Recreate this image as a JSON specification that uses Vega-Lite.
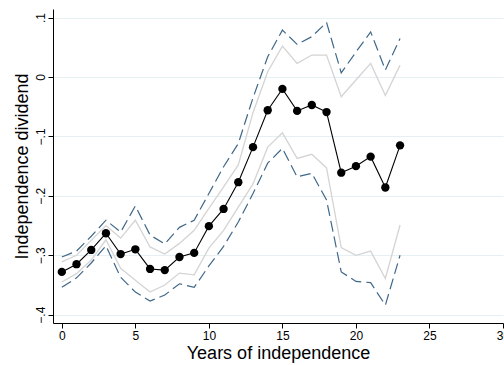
{
  "$schema": "https://vega.github.io/schema/vega-lite/v6.json",
  "width": 450,
  "height": 314,
  "autosize": {"type": "none"},
  "padding": {"left": 53, "top": 9, "right": 1, "bottom": 42},
  "background": "white",
  "config": {
    "font": "Liberation Sans",
    "view": {"stroke": null},
    "axis": {
      "domainColor": "black", "domainWidth": 1, "tickColor": "black", "tickWidth": 1, "tickSize": 5,
      "labelColor": "black", "titleColor": "black", "labelFont": "Liberation Sans", "titleFont": "Liberation Sans",
      "titleFontWeight": "normal", "labelFontSize": 12, "titleFontSize": 18
    }
  },
  "data": {"values": [
    {"year": 0, "est": -0.328, "hi95": -0.303, "hi90": -0.311, "lo90": -0.345, "lo95": -0.354},
    {"year": 1, "est": -0.315, "hi95": -0.293, "hi90": -0.300, "lo90": -0.331, "lo95": -0.338},
    {"year": 2, "est": -0.291, "hi95": -0.268, "hi90": -0.275, "lo90": -0.308, "lo95": -0.313},
    {"year": 3, "est": -0.263, "hi95": -0.241, "hi90": -0.250, "lo90": -0.274, "lo95": -0.284},
    {"year": 4, "est": -0.298, "hi95": -0.261, "hi90": -0.271, "lo90": -0.322, "lo95": -0.337},
    {"year": 5, "est": -0.290, "hi95": -0.217, "hi90": -0.241, "lo90": -0.342, "lo95": -0.362},
    {"year": 6, "est": -0.323, "hi95": -0.266, "hi90": -0.286, "lo90": -0.362, "lo95": -0.377},
    {"year": 7, "est": -0.325, "hi95": -0.281, "hi90": -0.298, "lo90": -0.350, "lo95": -0.367},
    {"year": 8, "est": -0.303, "hi95": -0.253, "hi90": -0.280, "lo90": -0.330, "lo95": -0.348},
    {"year": 9, "est": -0.296, "hi95": -0.241, "hi90": -0.258, "lo90": -0.333, "lo95": -0.354},
    {"year": 10, "est": -0.251, "hi95": -0.196, "hi90": -0.221, "lo90": -0.288, "lo95": -0.318},
    {"year": 11, "est": -0.222, "hi95": -0.151, "hi90": -0.185, "lo90": -0.258, "lo95": -0.285},
    {"year": 12, "est": -0.177, "hi95": -0.112, "hi90": -0.148, "lo90": -0.219, "lo95": -0.244},
    {"year": 13, "est": -0.118, "hi95": -0.035, "hi90": -0.060, "lo90": -0.180, "lo95": -0.196},
    {"year": 14, "est": -0.056, "hi95": 0.034, "hi90": 0.009, "lo90": -0.118, "lo95": -0.145},
    {"year": 15, "est": -0.020, "hi95": 0.079, "hi90": 0.052, "lo90": -0.094, "lo95": -0.120},
    {"year": 16, "est": -0.057, "hi95": 0.055, "hi90": 0.023, "lo90": -0.137, "lo95": -0.168},
    {"year": 17, "est": -0.047, "hi95": 0.068, "hi90": 0.037, "lo90": -0.130, "lo95": -0.162},
    {"year": 18, "est": -0.059, "hi95": 0.092, "hi90": 0.037, "lo90": -0.153, "lo95": -0.207},
    {"year": 19, "est": -0.161, "hi95": 0.007, "hi90": -0.033, "lo90": -0.287, "lo95": -0.328},
    {"year": 20, "est": -0.150, "hi95": 0.042, "hi90": -0.005, "lo90": -0.300, "lo95": -0.344},
    {"year": 21, "est": -0.134, "hi95": 0.076, "hi90": 0.023, "lo90": -0.293, "lo95": -0.346},
    {"year": 22, "est": -0.186, "hi95": 0.012, "hi90": -0.031, "lo90": -0.339, "lo95": -0.384},
    {"year": 23, "est": -0.115, "hi95": 0.065, "hi90": 0.020, "lo90": -0.249, "lo95": -0.300}
  ]},
  "encoding": {
    "x": {"field": "year", "type": "quantitative",
      "scale": {"domain": [-0.6, 30], "nice": false, "zero": false},
      "axis": {"values": [0, 5, 10, 15, 20, 25, 30], "grid": false, "title": "Years of independence",
        "labelPadding": 2, "titlePadding": 3, "labelFlush": false}}
  },
  "layer": [
    {
      "mark": {"type": "rule", "color": "#c06a78", "strokeDash": [1, 2], "strokeWidth": 0.8},
      "encoding": {"y": {"datum": 0, "type": "quantitative",
        "scale": {"domain": [-0.414, 0.1145], "nice": false, "zero": false},
        "axis": {"values": [-0.4, -0.3, -0.2, -0.1, 0, 0.1], "grid": true, "gridColor": "#e6eff2", "gridWidth": 1,
          "title": "Independence dividend", "labelAngle": -90, "labelAlign": "center", "labelBaseline": "bottom",
          "labelPadding": 1, "titlePadding": 3,
          "labelExpr": "datum.value == 0 ? '0' : replace(format(datum.value, '.1f'), '0.', '.')"}}}
    },
    {
      "mark": {"type": "line", "color": "#d4d4d4", "strokeWidth": 1.3},
      "encoding": {"y": {"field": "hi90", "type": "quantitative"}}
    },
    {
      "mark": {"type": "line", "color": "#d4d4d4", "strokeWidth": 1.3},
      "encoding": {"y": {"field": "lo90", "type": "quantitative"}}
    },
    {
      "mark": {"type": "line", "color": "#3f6788", "strokeWidth": 1.2, "strokeDash": [11, 5]},
      "encoding": {"y": {"field": "hi95", "type": "quantitative"}}
    },
    {
      "mark": {"type": "line", "color": "#3f6788", "strokeWidth": 1.2, "strokeDash": [11, 5]},
      "encoding": {"y": {"field": "lo95", "type": "quantitative"}}
    },
    {
      "mark": {"type": "line", "color": "black", "strokeWidth": 1.1, "point": {"filled": true, "color": "black", "size": 70, "opacity": 1}},
      "encoding": {"y": {"field": "est", "type": "quantitative"}}
    }
  ]
}
